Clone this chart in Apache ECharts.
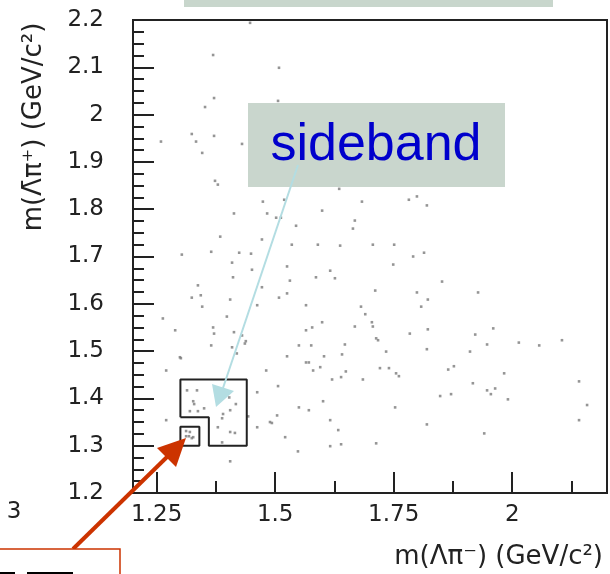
<!DOCTYPE html>
<html>
<head>
<meta charset="utf-8">
<script src="https://cdn.jsdelivr.net/npm/echarts@6/dist/echarts.min.js"></script>
<style>
  html, body { margin: 0; padding: 0; background: #ffffff; }
  #chart { width: 610px; height: 574px; }
</style>
</head>
<body>
<div id="chart"></div>
<script>
// Axis ranges and tick positions
const xRange = [1.2, 2.2];
const yRange = [1.2, 2.2];
const xMajorTicks = [1.25, 1.5, 1.75, 2];
const xMinorTicks = [1.375, 1.625, 1.875, 2.125];
const yInterval = 0.1;

// Candidate events: [m(Λπ⁻), m(Λ̄π⁺)] in GeV/c²
const events = [
  [1.447, 2.194], [1.369, 2.126], [1.508, 2.099], [1.371, 2.035], [1.352, 2.016],
  [1.506, 2.029], [1.324, 1.959], [1.371, 1.955], [1.333, 1.943], [1.259, 1.943],
  [1.430, 1.938], [1.346, 1.919], [1.373, 1.860], [1.379, 1.852], [1.635, 1.843],
  [1.474, 1.816], [1.519, 1.820], [1.599, 1.797], [1.683, 1.816], [1.413, 1.791],
  [1.483, 1.791], [1.502, 1.782], [1.512, 1.782], [1.668, 1.776], [1.544, 1.765],
  [1.664, 1.759], [1.384, 1.742], [1.472, 1.736], [1.365, 1.710], [1.303, 1.704],
  [1.424, 1.708], [1.449, 1.706], [1.535, 1.725], [1.590, 1.725], [1.637, 1.723],
  [1.782, 1.820], [1.799, 1.827], [1.820, 1.808], [1.706, 1.725], [1.751, 1.725],
  [1.814, 1.708], [1.791, 1.700], [1.409, 1.687], [1.525, 1.679], [1.451, 1.672],
  [1.616, 1.670], [1.411, 1.656], [1.531, 1.649], [1.586, 1.656], [1.626, 1.654],
  [1.337, 1.639], [1.472, 1.635], [1.343, 1.618], [1.324, 1.613], [1.405, 1.609],
  [1.508, 1.613], [1.525, 1.622], [1.346, 1.594], [1.462, 1.597], [1.565, 1.597],
  [1.681, 1.594], [1.690, 1.578], [1.398, 1.573], [1.263, 1.569], [1.599, 1.561],
  [1.704, 1.561], [1.668, 1.552], [1.369, 1.550], [1.289, 1.544], [1.371, 1.537],
  [1.413, 1.540], [1.430, 1.533], [1.565, 1.544], [1.578, 1.550], [1.438, 1.521],
  [1.436, 1.516], [1.365, 1.512], [1.550, 1.512], [1.576, 1.512], [1.647, 1.514],
  [1.409, 1.508], [1.641, 1.493], [1.419, 1.495], [1.299, 1.487], [1.301, 1.485],
  [1.525, 1.489], [1.603, 1.489], [1.565, 1.476], [1.571, 1.476], [1.270, 1.459],
  [1.481, 1.459], [1.580, 1.459], [1.595, 1.466], [1.649, 1.457], [1.620, 1.440],
  [1.639, 1.445], [1.685, 1.440], [1.506, 1.426], [1.462, 1.413], [1.314, 1.417],
  [1.335, 1.417], [1.403, 1.402], [1.327, 1.394], [1.329, 1.388], [1.320, 1.373],
  [1.337, 1.373], [1.350, 1.379], [1.405, 1.375], [1.417, 1.388], [1.390, 1.367],
  [1.388, 1.358], [1.443, 1.362], [1.504, 1.364], [1.550, 1.381], [1.571, 1.375],
  [1.601, 1.394], [1.270, 1.354], [1.489, 1.350], [1.493, 1.348], [1.616, 1.354],
  [1.462, 1.339], [1.379, 1.339], [1.405, 1.329], [1.415, 1.327], [1.633, 1.333],
  [1.312, 1.331], [1.320, 1.329], [1.318, 1.320], [1.312, 1.320], [1.327, 1.318],
  [1.324, 1.316], [1.521, 1.318], [1.388, 1.307], [1.616, 1.299], [1.639, 1.303],
  [1.548, 1.288], [1.405, 1.267], [1.749, 1.683], [1.852, 1.647], [1.711, 1.628],
  [1.799, 1.624], [1.822, 1.609], [1.928, 1.624], [1.808, 1.594], [1.706, 1.552],
  [1.784, 1.537], [1.822, 1.546], [1.960, 1.548], [1.713, 1.527], [1.717, 1.523],
  [1.922, 1.535], [1.947, 1.514], [2.014, 1.518], [2.057, 1.512], [2.105, 1.523],
  [1.734, 1.499], [1.820, 1.504], [1.911, 1.499], [1.721, 1.464], [1.740, 1.464],
  [1.755, 1.453], [1.761, 1.447], [1.865, 1.461], [1.877, 1.468], [1.983, 1.453],
  [1.917, 1.432], [1.947, 1.417], [1.955, 1.409], [1.964, 1.421], [1.991, 1.398],
  [1.848, 1.405], [1.871, 1.409], [2.141, 1.436], [1.753, 1.381], [2.158, 1.386],
  [2.141, 1.354], [1.820, 1.345], [1.941, 1.326], [1.713, 1.305]
];

// Signal window and L-shaped sideband region (closed outlines)
const signalBox = [[1.30, 1.30], [1.34, 1.30], [1.34, 1.34], [1.30, 1.34], [1.30, 1.30]];
const sidebandBox = [[1.30, 1.36], [1.30, 1.44], [1.44, 1.44], [1.44, 1.30],
                     [1.36, 1.30], [1.36, 1.36], [1.30, 1.36]];

const labelFont = 'DejaVu Sans';
const frameColor = '#222';

const chart = echarts.init(document.getElementById('chart'), null, { renderer: 'canvas' });

chart.setOption({
  animation: false,
  backgroundColor: '#ffffff',
  grid: {
    left: 133, top: 20, width: 474, height: 473,
    show: true, borderColor: frameColor, borderWidth: 2, backgroundColor: 'transparent'
  },
  xAxis: [
    {
      type: 'value', min: xRange[0], max: xRange[1], position: 'bottom',
      axisLine: { show: true, lineStyle: { color: frameColor, width: 2 } },
      axisTick: { show: true, inside: true, length: 21, customValues: xMajorTicks,
                  lineStyle: { color: frameColor, width: 2 } },
      axisLabel: { show: true, customValues: xMajorTicks, margin: 11,
                   fontFamily: labelFont, fontSize: 23, color: '#222',
                   formatter: v => String(+v.toFixed(2)) },
      splitLine: { show: false },
      name: 'm(Λπ⁻) (GeV/c²)',
      nameLocation: 'end', nameGap: -4,
      nameTextStyle: { fontFamily: labelFont, fontSize: 26, color: '#222',
                       align: 'right', verticalAlign: 'top', padding: [51, 0, 0, 0] }
    },
    {
      type: 'value', min: xRange[0], max: xRange[1], position: 'bottom',
      axisLine: { show: false },
      axisTick: { show: true, inside: true, length: 12, customValues: xMinorTicks,
                  lineStyle: { color: frameColor, width: 2 } },
      axisLabel: { show: false },
      splitLine: { show: false }
    }
  ],
  yAxis: {
    type: 'value', min: yRange[0], max: yRange[1], interval: yInterval,
    axisLine: { show: true, lineStyle: { color: frameColor, width: 2 } },
    axisTick: { show: true, inside: true, length: 21, lineStyle: { color: frameColor, width: 2 } },
    minorTick: { show: true, splitNumber: 4, length: 11, lineStyle: { color: frameColor, width: 2 } },
    axisLabel: { margin: 29, fontFamily: labelFont, fontSize: 23, color: '#222' },
    splitLine: { show: false },
    minorSplitLine: { show: false }
  },
  series: [
    {
      name: 'events', type: 'scatter', data: events,
      symbol: 'rect', symbolSize: 2.6,
      itemStyle: { color: '#7a7a7a' }, silent: true
    },
    {
      name: 'signal', type: 'line', data: signalBox,
      showSymbol: false, symbol: 'none', silent: true,
      lineStyle: { color: frameColor, width: 2 }
    },
    {
      name: 'sideband', type: 'line', data: sidebandBox.concat([sidebandBox[0]]),
      showSymbol: false, symbol: 'none', silent: true,
      lineStyle: { color: frameColor, width: 2 }
    }
  ],
  graphic: [
    // y-axis title
    { type: 'text', x: 34, y: 127, rotation: Math.PI / 2, z: 10,
      style: { text: 'm(Λ̄π⁺) (GeV/c²)', font: '26px "DejaVu Sans"', fill: '#222',
               align: 'center', verticalAlign: 'middle' } },
    // stray label on the left edge
    { type: 'text', x: 14, y: 512, z: 10,
      style: { text: '3', font: '23px "DejaVu Sans"', fill: '#222',
               align: 'center', verticalAlign: 'middle' } },
    // header strip
    { type: 'rect', shape: { x: 184, y: 0, width: 369, height: 7 }, z: 10,
      style: { fill: '#c8d6cc' } },
    // "sideband" call-out
    { type: 'rect', shape: { x: 248, y: 103, width: 257, height: 84 }, z: 10,
      style: { fill: '#c9d6cd' } },
    { type: 'text', x: 376, y: 146, z: 11,
      style: { text: 'sideband', font: '52px "Liberation Sans"', fill: '#0000cc',
               align: 'center', verticalAlign: 'middle' } },
    { type: 'line', shape: { x1: 298, y1: 165, x2: 223, y2: 388 }, z: 12,
      style: { stroke: '#b3dde2', lineWidth: 2 } },
    { type: 'polygon', shape: { points: [[212, 384], [234, 391], [216, 407]] }, z: 12,
      style: { fill: '#b3dde2' } },
    // signal call-out arrow and box
    { type: 'line', shape: { x1: 73, y1: 549, x2: 168, y2: 456 }, z: 12,
      style: { stroke: '#cc3300', lineWidth: 4 } },
    { type: 'polygon', shape: { points: [[157, 448], [176, 467], [186, 438]] }, z: 12,
      style: { fill: '#cc3300' } },
    { type: 'rect', shape: { x: -2, y: 549, width: 122, height: 40 }, z: 12,
      style: { fill: '#ffffff', stroke: '#cc3300', lineWidth: 1.5 } },
    { type: 'rect', shape: { x: 0, y: 572, width: 15, height: 2 }, z: 13,
      style: { fill: '#000000' } },
    { type: 'rect', shape: { x: 27, y: 572, width: 46, height: 2 }, z: 13,
      style: { fill: '#000000' } }
  ]
});
</script>
</body>
</html>
